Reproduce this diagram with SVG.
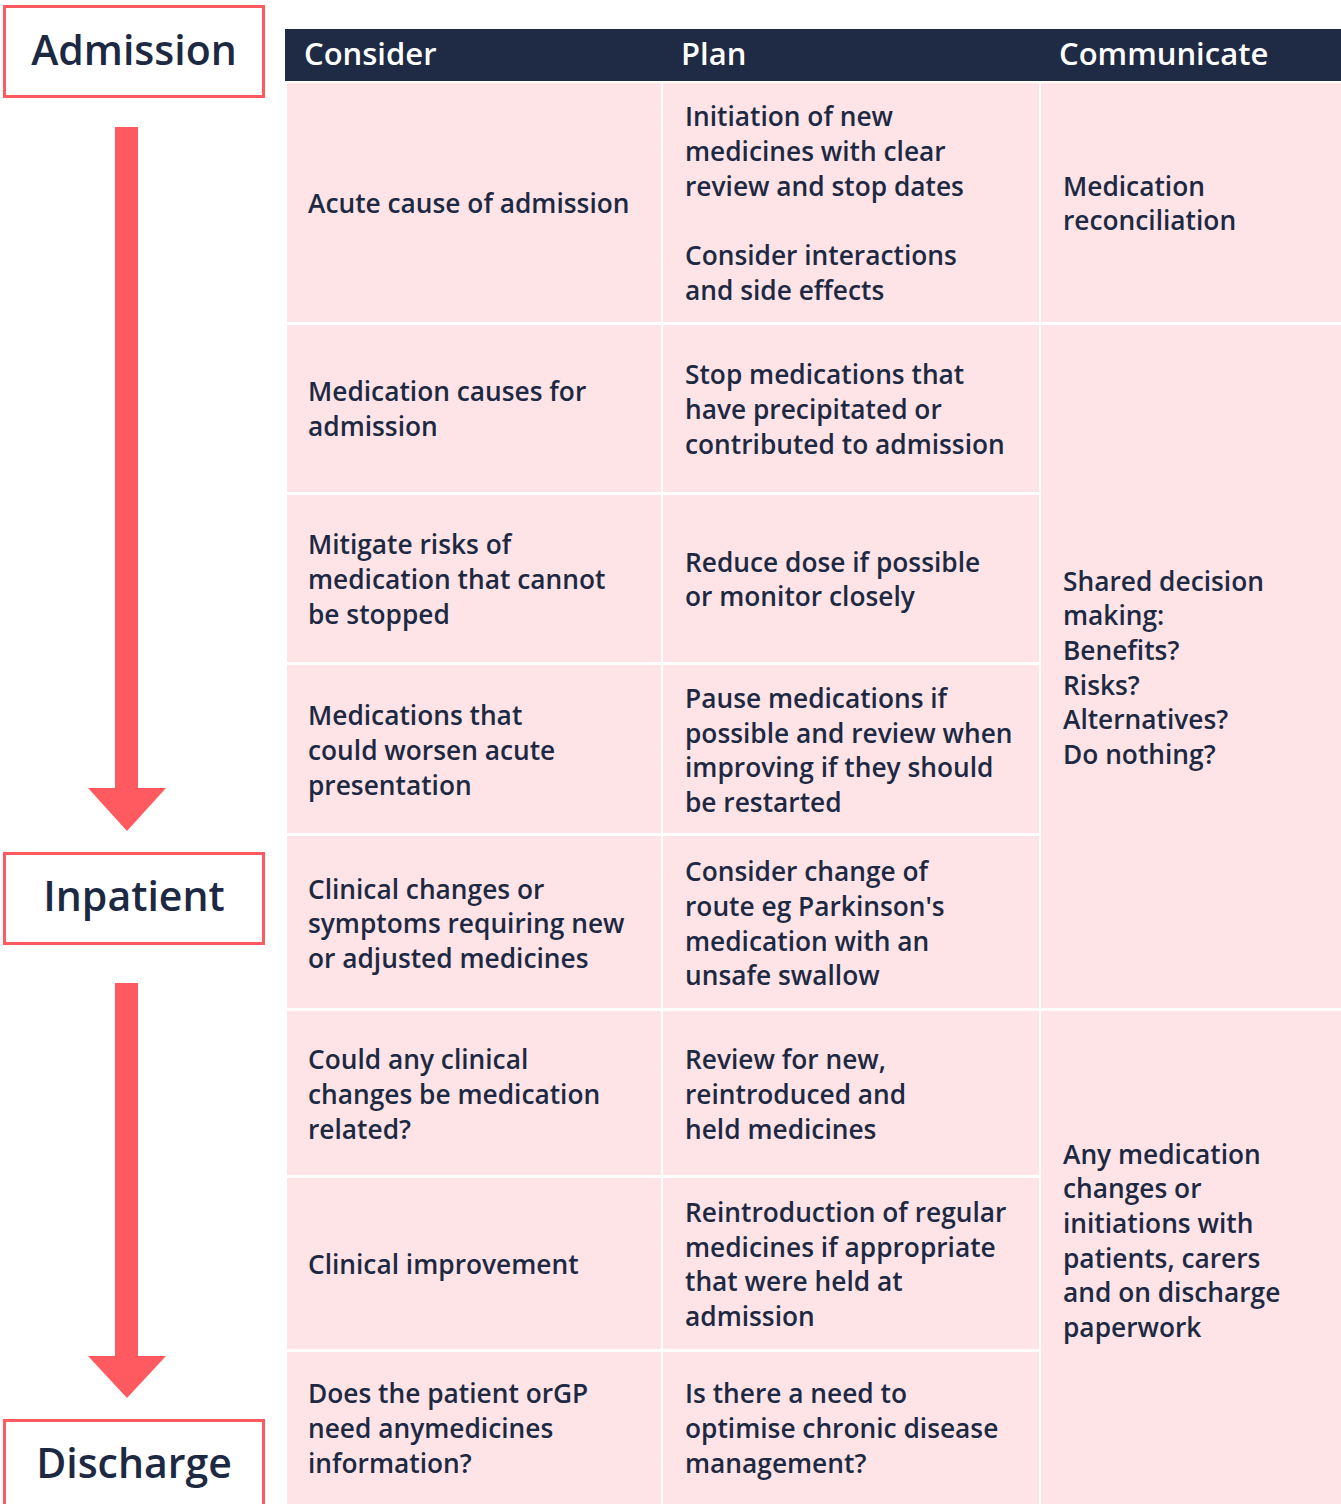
<svg xmlns="http://www.w3.org/2000/svg" width="1341" height="1504" viewBox="0 0 1341 1504">
<style>
.cell{fill:#FEE4E7}
.t{font-family:"Open Sans","Noto Sans","Liberation Sans",sans-serif;font-weight:600;font-size:26.3px;fill:#1D2942}
.h{font-family:"Open Sans","Noto Sans","Liberation Sans",sans-serif;font-weight:600;font-size:31px;fill:#FFFFFF}
.stage{fill:#FFFFFF;stroke:#FF5A5F;stroke-width:3}
.sl{font-family:"Open Sans","Noto Sans","Liberation Sans",sans-serif;font-weight:600;font-size:41px;fill:#1D2942;text-anchor:middle}
.arrow{fill:#FF5A5F}
</style>
<rect width="1341" height="1504" fill="#FFFFFF"/>

<g id="stage-admission">
<rect class="stage" x="4.5" y="6.5" width="259" height="90"/>
<text class="sl" x="134" y="65">Admission</text>
</g>
<g id="stage-inpatient">
<rect class="stage" x="4.5" y="853.5" width="259" height="90"/>
<text class="sl" x="134" y="911">Inpatient</text>
</g>
<g id="stage-discharge">
<rect class="stage" x="4.5" y="1420.5" width="259" height="100"/>
<text class="sl" x="134" y="1478">Discharge</text>
</g>

<g id="connectors">
<polygon class="arrow" points="115,127 138,127 138,788 166,788 127,831 88,788 115,788"/>
<polygon class="arrow" points="115,983 138,983 138,1356 166,1356 127,1398 88,1356 115,1356"/>
</g>

<g id="header">
<rect x="285" y="29" width="1056" height="52" fill="#1F2A44"/>
<text class="h" x="304" y="65">Consider</text>
<text class="h" x="681" y="65">Plan</text>
<text class="h" x="1059" y="65">Communicate</text>
</g>

<g id="row1-consider"><rect class="cell" x="287" y="83" width="374" height="239"/>
<text class="t" x="308" y="213">Acute cause of admission</text></g>
<g id="row1-plan"><rect class="cell" x="663" y="83" width="376" height="239"/>
<text class="t" x="685"><tspan x="685" y="126">Initiation of new</tspan><tspan x="685" y="161">medicines with clear</tspan><tspan x="685" y="196">review and stop dates</tspan><tspan x="685" y="265">Consider interactions</tspan><tspan x="685" y="300">and side effects</tspan></text></g>
<g id="row1-communicate"><rect class="cell" x="1041" y="83" width="300" height="239"/>
<text class="t"><tspan x="1063" y="196">Medication</tspan><tspan x="1063" y="230">reconciliation</tspan></text></g>

<g id="row2-consider"><rect class="cell" x="287" y="325" width="374" height="167"/>
<text class="t"><tspan x="308" y="401">Medication causes for</tspan><tspan x="308" y="436">admission</tspan></text></g>
<g id="row2-plan"><rect class="cell" x="663" y="325" width="376" height="167"/>
<text class="t"><tspan x="685" y="384">Stop medications that</tspan><tspan x="685" y="419">have precipitated or</tspan><tspan x="685" y="454">contributed to admission</tspan></text></g>

<g id="row3-consider"><rect class="cell" x="287" y="495" width="374" height="167"/>
<text class="t"><tspan x="308" y="554">Mitigate risks of</tspan><tspan x="308" y="589">medication that cannot</tspan><tspan x="308" y="624">be stopped</tspan></text></g>
<g id="row3-plan"><rect class="cell" x="663" y="495" width="376" height="167"/>
<text class="t"><tspan x="685" y="572">Reduce dose if possible</tspan><tspan x="685" y="606">or monitor closely</tspan></text></g>

<g id="row4-consider"><rect class="cell" x="287" y="665" width="374" height="168"/>
<text class="t"><tspan x="308" y="725">Medications that</tspan><tspan x="308" y="760">could worsen acute</tspan><tspan x="308" y="795">presentation</tspan></text></g>
<g id="row4-plan"><rect class="cell" x="663" y="665" width="376" height="168"/>
<text class="t"><tspan x="685" y="708">Pause medications if</tspan><tspan x="685" y="743">possible and review when</tspan><tspan x="685" y="777">improving if they should</tspan><tspan x="685" y="812">be restarted</tspan></text></g>

<g id="row5-consider"><rect class="cell" x="287" y="836" width="374" height="172"/>
<text class="t"><tspan x="308" y="899">Clinical changes or</tspan><tspan x="308" y="933">symptoms requiring new</tspan><tspan x="308" y="968">or adjusted medicines</tspan></text></g>
<g id="row5-plan"><rect class="cell" x="663" y="836" width="376" height="172"/>
<text class="t"><tspan x="685" y="881">Consider change of</tspan><tspan x="685" y="916">route eg Parkinson's</tspan><tspan x="685" y="951">medication with an</tspan><tspan x="685" y="985">unsafe swallow</tspan></text></g>

<g id="rows2-5-communicate"><rect class="cell" x="1041" y="325" width="300" height="683"/>
<text class="t"><tspan x="1063" y="591">Shared decision</tspan><tspan x="1063" y="625">making:</tspan><tspan x="1063" y="660">Benefits?</tspan><tspan x="1063" y="695">Risks?</tspan><tspan x="1063" y="729">Alternatives?</tspan><tspan x="1063" y="764">Do nothing?</tspan></text></g>

<g id="row6-consider"><rect class="cell" x="287" y="1011" width="374" height="164"/>
<text class="t"><tspan x="308" y="1069">Could any clinical</tspan><tspan x="308" y="1104">changes be medication</tspan><tspan x="308" y="1139">related?</tspan></text></g>
<g id="row6-plan"><rect class="cell" x="663" y="1011" width="376" height="164"/>
<text class="t"><tspan x="685" y="1069">Review for new,</tspan><tspan x="685" y="1104">reintroduced and</tspan><tspan x="685" y="1139">held medicines</tspan></text></g>

<g id="row7-consider"><rect class="cell" x="287" y="1178" width="374" height="171"/>
<text class="t" x="308" y="1274">Clinical improvement</text></g>
<g id="row7-plan"><rect class="cell" x="663" y="1178" width="376" height="171"/>
<text class="t"><tspan x="685" y="1222">Reintroduction of regular</tspan><tspan x="685" y="1257">medicines if appropriate</tspan><tspan x="685" y="1291">that were held at</tspan><tspan x="685" y="1326">admission</tspan></text></g>

<g id="row8-consider"><rect class="cell" x="287" y="1352" width="374" height="152"/>
<text class="t"><tspan x="308" y="1403">Does the patient orGP</tspan><tspan x="308" y="1438">need anymedicines</tspan><tspan x="308" y="1473">information?</tspan></text></g>
<g id="row8-plan"><rect class="cell" x="663" y="1352" width="376" height="152"/>
<text class="t"><tspan x="685" y="1403">Is there a need to</tspan><tspan x="685" y="1438">optimise chronic disease</tspan><tspan x="685" y="1473">management?</tspan></text></g>

<g id="rows6-8-communicate"><rect class="cell" x="1041" y="1011" width="300" height="493"/>
<text class="t"><tspan x="1063" y="1164">Any medication</tspan><tspan x="1063" y="1198">changes or</tspan><tspan x="1063" y="1233">initiations with</tspan><tspan x="1063" y="1268">patients, carers</tspan><tspan x="1063" y="1302">and on discharge</tspan><tspan x="1063" y="1337">paperwork</tspan></text></g>
</svg>
